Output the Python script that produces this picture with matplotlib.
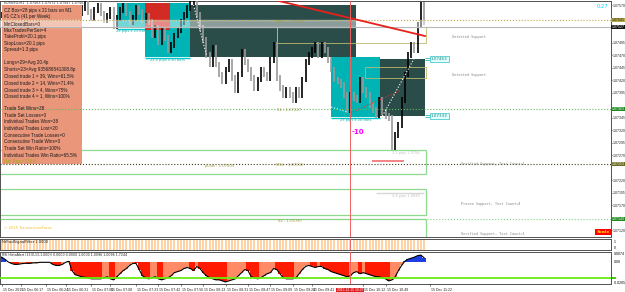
import matplotlib
matplotlib.use("Agg")
import matplotlib.pyplot as plt
from matplotlib.patches import Rectangle
from matplotlib.transforms import blended_transform_factory as blend

# ---- data ----
closes = [1.07551, 1.07545, 1.07557, 1.07541, 1.07531, 1.07537, 1.07549, 1.07561, 1.07553, 1.07541,
          1.07533, 1.07545, 1.07557, 1.07565, 1.07553, 1.07541, 1.07529, 1.07537, 1.07549, 1.07557,
          1.07545, 1.07533, 1.07525, 1.07541, 1.07553, 1.07565, 1.07573, 1.07557, 1.07545, 1.07561,
          1.07569, 1.07553, 1.07541, 1.07549, 1.07561, 1.07529, 1.07545, 1.07561, 1.07569, 1.07553,
          1.07537, 1.07545, 1.07565, 1.07557, 1.07541, 1.07549, 1.07537, 1.07511, 1.07525, 1.07497,
          1.07521, 1.07505, 1.07481, 1.07491, 1.07509, 1.07521, 1.07537, 1.07551, 1.07565, 1.07573,
          1.07575, 1.07551, 1.07525, 1.07501, 1.07471, 1.07451, 1.07485, 1.07451, 1.07431, 1.07417,
          1.07441, 1.07457, 1.07425, 1.07401, 1.07431, 1.07477, 1.07457, 1.07441, 1.07425, 1.07405,
          1.07421, 1.07441, 1.07431, 1.07425, 1.07461, 1.07491, 1.07425, 1.07405, 1.07391, 1.07401,
          1.07391, 1.07381, 1.07401, 1.07391, 1.07421, 1.07457, 1.07471, 1.07481, 1.07491, 1.07471,
          1.07491, 1.07481, 1.07461, 1.07441, 1.07421, 1.07417, 1.07411, 1.07391, 1.07361, 1.07391,
          1.07385, 1.07381, 1.07421, 1.07401, 1.07391, 1.07371, 1.07361, 1.07351, 1.07381, 1.07357,
          1.07349, 1.07345, 1.07285, 1.07311, 1.07331, 1.07381, 1.07431, 1.07471, 1.07491, 1.07481,
          1.07531, 1.07571, 1.07537]
wick = 0.00005

# oscillator (units of 0.001)
osc = [4.5, 2.5, 0, -1.5, -2.5, -2.5, -2, -1.5, -1.5, -1.5,
       -1, -1, -0.5, -0.5, -0.5, -0.5, -2.5, -3.5, -3.5, -2.5,
       -0.5, 0.5, -8.5, -12.5, -13.5, -14.5, -15, -15.5, -16.5, -16.5,
       -16.5, -16.5, -15.5, -14.5, -16.5, -17.5, -14.5, -11.5, -8.5, -6.5,
       -3.5, -1.5, -1.5, -7.5, -13.5, -15.5, -16.5, -15.5, -14.5, -16.5,
       -17.5, -16.5, -15.5, -13.5, -10.5, -9.5, -8.5, -6.5, -5.5, -6.5,
       -8.5, -4.5, -6.5, -10.5, -13.5, -15.5, -16.5, -17.5, -17.5, -18.5,
       -19.5, -18.5, -17.5, -16.5, -13.5, -10.5, -7.5, -8.5, -14.5, -15.5,
       -16.5, -15.5, -13.5, -11.5, -10.5, -6.5, -7.5, -11.5, -15.5, -16.5,
       -16.5, -16.5, -15.5, -11.5, -7.5, -4.5, -3.5, -4.5, -5.5, -4.5,
       -4.5, -6.5, -7.5, -9.5, -10.5, -11.5, -12.5, -13.5, -14.5, -13.5,
       -10.5, -9.5, -11.5, -10.5, -11.5, -12.5, -13.5, -14.5, -14.5, -15.5,
       -16.5, -18.5, -17.5, -14.5, -8.5, -3.5, 0.5, 2.5, 3.5, 4.5,
       6, 6.5, 4]
osc_level = -15.5

# zones: start bar, end bar, top price, bottom price, colour
zone_x0 = [36.1, 44.8, 44.8, 58.9, 102.9, 118.3]
zone_x1 = [44.9, 58.9, 52.6, 110.8, 118.3, 132.3]
zone_top = [1.07575, 1.07575, 1.07575, 1.07571, 1.07467, 1.07463]
zone_bot = [1.07525, 1.07467, 1.07521, 1.07467, 1.07347, 1.07349]
zone_col = ["#00b4b6", "#00b4b6", "#d42a24", "#2b4d4a", "#00b4b6", "#2b4d4a"]
zone_lbl = ["28 pips x 23 bars", "22.0 pips x 20 bars", "", "", "23 pips x 20 bars", ""]

# horizontal levels
lvl_price = [1.07541, 1.07527, 1.07363, 1.07253, 1.07143]
lvl_col = ["#b4a848", "#b8b8b8", "#60b860", "#404020", "#80d080"]
lvl_ls = [":", "-", ":", ":", ":"]
lvl_face = ["#b4a848", "#101010", "#208a20", "#6a6a20", "#208a20"]

# support zone outlines (green)
sup_top = [1.07281, 1.07203, 1.07143]
sup_bot = [1.07233, 1.07151, 1.07090]
sup_end = 132.5

# pivot boxes (olive)
piv_x0 = [86, 113.5]
piv_top = [1.07527, 1.07447]
piv_bot = [1.07495, 1.07425]

piv_text = ["MR3 : 1.07673", "S1 : 1.07227", "pLow : 1.07009", "MS1 : 1.07002", "S2 : 1.06787"]
piv_tx = [85.7, 86, 63.6, 85.7, 86.4]
piv_ty = [1.07537, 1.07361, 1.07249, 1.07251, 1.07139]

zone_names = ["Untested Support", "Untested Support", "Verified Support, Test Count=1",
              "Proven Support, Test Count=4", "Verified Support, Test Count=1"]
zone_name_y = [1.07507, 1.07431, 1.07253, 1.07173, 1.07113]

trend_x = [85.4, 132.3]
trend_p = [1.07581, 1.07509]
cursor_bar = 108.9

trade_x0 = [60, 103, 109, 119]
trade_x1 = [64, 108, 125, 129]
trade_p0 = [1.07571, 1.07367, 1.07355, 1.07349]
trade_p1 = [1.07471, 1.07357, 1.07401, 1.07465]
trade_c = ["white", "white", "#e03030", "white"]

tag_price = [1.07463, 1.07349]
tag_text = ["1.07463", "1.07333"]

price_ticks = [1.07570 - 0.00025 * k for k in range(19)]

time_pos = [0, 6, 14, 20, 28, 34, 42, 49, 56, 63, 70, 77, 84, 91, 97, 113, 120, 134]
time_lbl = ["15 Dec 2015", "15 Dec 06:17", "15 Dec 06:24", "15 Dec 06:31", "15 Dec 07:00",
            "15 Dec 07:08", "15 Dec 07:23", "15 Dec 07:42", "15 Dec 07:56", "15 Dec 08:13",
            "15 Dec 08:31", "15 Dec 08:47", "15 Dec 09:09", "15 Dec 09:24", "15 Dec 09:41",
            "15 Dec 10:12", "15 Dec 10:49", "15 Dec 11:22"]

panel_lines = ["CZ Box=28 pips x 21 bars on M1", "#1 CZ's (41 per Week)", "MinClosedBars=0",
               "MaxTradesPerSet=4", "TakeProfit=20.1 pips", "StopLoss=20.1 pips", "Spread=1.3 pips",
               "Longs=29=Avg 20.4p", "Shorts=23=Avg 935686541308.8p",
               "Closed trade 1 = 39, Wins=61.5%", "Closed trade 2 = 14, Wins=71.4%",
               "Closed trade 3 = 4, Wins=75%", "Closed trade 4 = 1, Wins=100%",
               "Trade Set Wins=38", "Trade Set Losses=0", "Individual Trades Won=38",
               "Individual Trades Lost=20", "Consecutive Trade Losses=0", "Consecutive Trade Wins=0",
               "Trade Set Win Ratio=100%", "Individual Trades Win Ratio=65.5%", "Net Pips=738.8"]
panel_y = [10.7, 16.5, 24, 30.3, 36.7, 43.3, 50, 62.7, 69.3, 76, 82.7, 89.3, 96,
           108.3, 115, 121.7, 128.3, 135, 141.7, 148.3, 155, 161.5]

# ---- layout ----
W, H = 625, 292
fig = plt.figure(figsize=(W / 100, H / 100), dpi=100)
fig.patch.set_facecolor("white")


def px_axes(x0, y0, x1, y1):
    return fig.add_axes([x0 / W, 1 - y1 / H, (x1 - x0) / W, (y1 - y0) / H])


ax = px_axes(0, 1, 611, 237)
ax1 = px_axes(0, 239, 611, 250)
ax2 = px_axes(0, 252, 611, 284)
xmin, xmax = -0.5, 190.44
for a in (ax, ax1, ax2):
    a.set_xlim(xmin, xmax)
    a.set_xticks([])
    for s in a.spines.values():
        s.set_color("#505050")
        s.set_linewidth(0.7)
ax.set_ylim(1.07107, 1.07579)

lab = dict(fontsize=2.5, family="Liberation Sans")
bt = blend(ax.transAxes, ax.transData)

# zones
for x0, x1, t, b, c, l in zip(zone_x0, zone_x1, zone_top, zone_bot, zone_col, zone_lbl):
    ax.add_patch(Rectangle((x0, b), x1 - x0, t - b, fc=c, ec="none", zorder=1))
    if l:
        ax.hlines(b - 0.00002, x0, x1, color="#00c8c8", lw=1.0, zorder=1)
        ax.text((x0 + x1) / 2, b - 0.00007, l, color="#20b0b0", ha="center", va="center",
                fontsize=2.6, zorder=6)

# support outlines
for t, b in zip(sup_top, sup_bot):
    ax.hlines([t, b], xmin, sup_end, color="#8fd88f", lw=0.9, zorder=2)
    ax.vlines(sup_end, b, t, color="#8fd88f", lw=0.9, zorder=2)

# pivot boxes
for x0, t, b in zip(piv_x0, piv_top, piv_bot):
    ax.add_patch(Rectangle((x0, b), 132.5 - x0, t - b, fc="none", ec="#bdb76b", lw=0.6, zorder=2))
ax.vlines(86, 1.07467, 1.07527, color="#bdb76b", lw=0.6, zorder=2)
for s, x, y in zip(piv_text, piv_tx, piv_ty):
    ax.text(x, y, s, color="#a09a48", fontsize=2.7, va="center", zorder=6)

# candles
opens = [closes[0]] + closes[:-1]
for i, (o, c) in enumerate(zip(opens, closes)):
    col = "#000000" if c >= o else "#9a9a9a"
    ax.vlines(i, min(o, c) - wick, max(o, c) + wick, color=col, lw=1.2, zorder=3)

# trade lines
for x0, x1, p0, p1, c in zip(trade_x0, trade_x1, trade_p0, trade_p1, trade_c):
    ax.plot([x0, x1], [p0, p1], ls=":", color=c, lw=0.8, zorder=4)

# trend line & cursor
ax.plot(trend_x, trend_p, color="#e8201c", lw=1.3, zorder=5)
for a in (ax, ax1, ax2):
    a.axvline(cursor_bar, color="#f06060", lw=0.7, zorder=5)
ax.text(cursor_bar + 0.6, 1.07317, "-10", color="#ff00ff", fontsize=5, fontweight="bold",
        va="center", zorder=6)
ax.hlines(1.07259, 115.7, 125.7, color="#f07070", lw=1.2, zorder=5)
ax.hlines(1.07195, 117, 132, color="#d8d8d8", lw=1.0, zorder=2)
ax.text(122, 1.07275, "2.5 pips 1.0758", color="#c0c0c0", fontsize=2.5, va="center", zorder=6)
ax.text(122, 1.07189, "3.4 pips 1.0699", color="#c0c0c0", fontsize=2.5, va="center", zorder=6)

# info panel (drawn over candles, under level lines)
ax.add_patch(Rectangle((2 / 611, 1 - 163 / 236), 80 / 611, 159 / 236, transform=ax.transAxes,
                       fc="#e9967a", ec="none", zorder=3.5))
ax.axhspan(lvl_price[1], lvl_price[0], color="white", alpha=0.45, zorder=3.6)
for s, y in zip(panel_lines, panel_y):
    col = "#a8a818" if s.startswith("Net") else "#1a1a1a"
    ax.text(4 / 611, 1 - (y - 1) / 236, s, transform=ax.transAxes, fontsize=3.3,
            family="Liberation Sans", color=col, va="center", zorder=7)
ax.text(4 / 611, 1 - 2 / 236, "EURUSD,M1  1.07563 1.07572 1.07547 1.07563", transform=ax.transAxes,
        fontsize=2.4, color="#333333", va="center", zorder=7)

# levels with highlighted price labels
for p, c, ls, fc in zip(lvl_price, lvl_col, lvl_ls, lvl_face):
    ax.axhline(p, color=c, ls=ls, lw=0.8, zorder=4)
    ax.text(1.0015, p, f"{p:.5f}", transform=bt, color="white" if fc != "#b4a848" else "#202020",
            va="center", ha="left", bbox=dict(boxstyle="square,pad=0.12", fc=fc, ec="none"),
            clip_on=False, zorder=8, **lab)

for s, y in zip(zone_names, zone_name_y):
    ax.text(0.74 if "Untested" in s else 0.755, y, s, transform=bt, color="#888888",
            fontsize=2.6, family="DejaVu Sans Mono", va="center", zorder=6)

# cyan price tags
for p, s in zip(tag_price, tag_text):
    ax.hlines([p + 0.00002, p - 0.00002], 132.3, 133.8, color="#30c0c0", lw=0.6, zorder=6)
    ax.text(134.2, p, s, color="#208080", fontsize=3.0, va="center", ha="left", zorder=7,
            bbox=dict(boxstyle="square,pad=0.2", fc="#e0ffff", ec="#30c0c0", lw=0.5))

ax.text(0.977, 0.975, "0.27", transform=ax.transAxes, color="#00d8ff", fontsize=3.8, va="center")
ax.text(0.987, 0.012, "Scale", transform=ax.transAxes, color="#ffe000", fontsize=3.2, ha="center",
        va="bottom", fontweight="bold", bbox=dict(boxstyle="square,pad=0.25", fc="#ff0000", ec="none"))
ax.text(0.006, 0.04, "\u00a9 2015 TransactionsForex", transform=ax.transAxes, color="#f0c030",
        fontsize=2.6, va="center")

# right price scale, leaving room for the highlighted labels
shown = [p for p in price_ticks if min(abs(p - q) for q in lvl_price) > 0.00009]
ax.yaxis.tick_right()
ax.set_yticks(shown)
ax.set_yticklabels([f"{p:.5f}" for p in shown], **lab)
ax.tick_params(axis="y", length=1.0, width=0.5, pad=0.5, colors="#202020")

# sub window 1: signal filter bars
ax1.bar(range(len(closes)), [1] * len(closes), width=0.6, color="#ffd2a6", zorder=1)
ax1.set_ylim(0, 1)
ax1.set_yticks([])
ax1.text(0.004, 0.7, "NrFwdSignalFilter 1.0000", transform=ax1.transAxes, fontsize=2.6,
         color="#202020", va="center")
ax1.text(1.004, 0.75, "1", transform=ax1.transAxes, va="center", **lab)
ax1.text(1.004, 0.2, "0", transform=ax1.transAxes, va="center", **lab)

# sub window 2: oscillator histogram
cols = []
for i, v in enumerate(osc):
    if v > 0:
        cols.append("#1f3fe0")
    elif i > 0 and v <= osc[i - 1]:
        cols.append("#ff1a00")
    else:
        cols.append("#ff8a66")
ax2.bar(range(len(osc)), osc, width=1.0, color=cols, zorder=1)
ax2.plot(range(len(osc)), osc, color="black", lw=0.8, zorder=2)
ax2.axhline(osc_level, color="#66ee11", lw=1.3, zorder=3)
ax2.set_ylim(-21.5, 9.5)
ax2.set_yticks([])
ax2.text(0.004, 0.9, "RSI HistoAlert (13(0,13,1.000)) 0.0000 0.0000 1.0000 1.0096 1.0096 1.7244",
         transform=ax2.transAxes, fontsize=2.3, color="#202020", va="center")
bt2 = blend(ax2.transAxes, ax2.transData)
for v, s in zip([7.5, 0, -20.5], ["0.0074", "0.00", "-0.0205"]):
    ax2.text(1.004, v, s, transform=bt2, va="center", **lab)
ax2.add_patch(Rectangle((1.001, osc_level - 1.2), 0.008, 2.4, transform=bt2, fc="#44cc11",
                        ec="none", clip_on=False))

# time axis
bx = blend(ax2.transData, ax2.transAxes)
for x, s in zip(time_pos, time_lbl):
    ax2.vlines(x, -0.07, 0, transform=bx, color="#404040", lw=0.5, clip_on=False)
    ax2.text(x + 0.3, -0.2, s, transform=bx, fontsize=2.5, family="Liberation Sans",
             va="center", ha="left", color="#202020")
ax2.text(cursor_bar, -0.2, "2015.12.15 10:37", transform=bx, fontsize=2.4, family="Liberation Sans",
         va="center", ha="center", color="white",
         bbox=dict(boxstyle="square,pad=0.2", fc="#e02020", ec="none"))

fig.savefig("out.png", dpi=100)
